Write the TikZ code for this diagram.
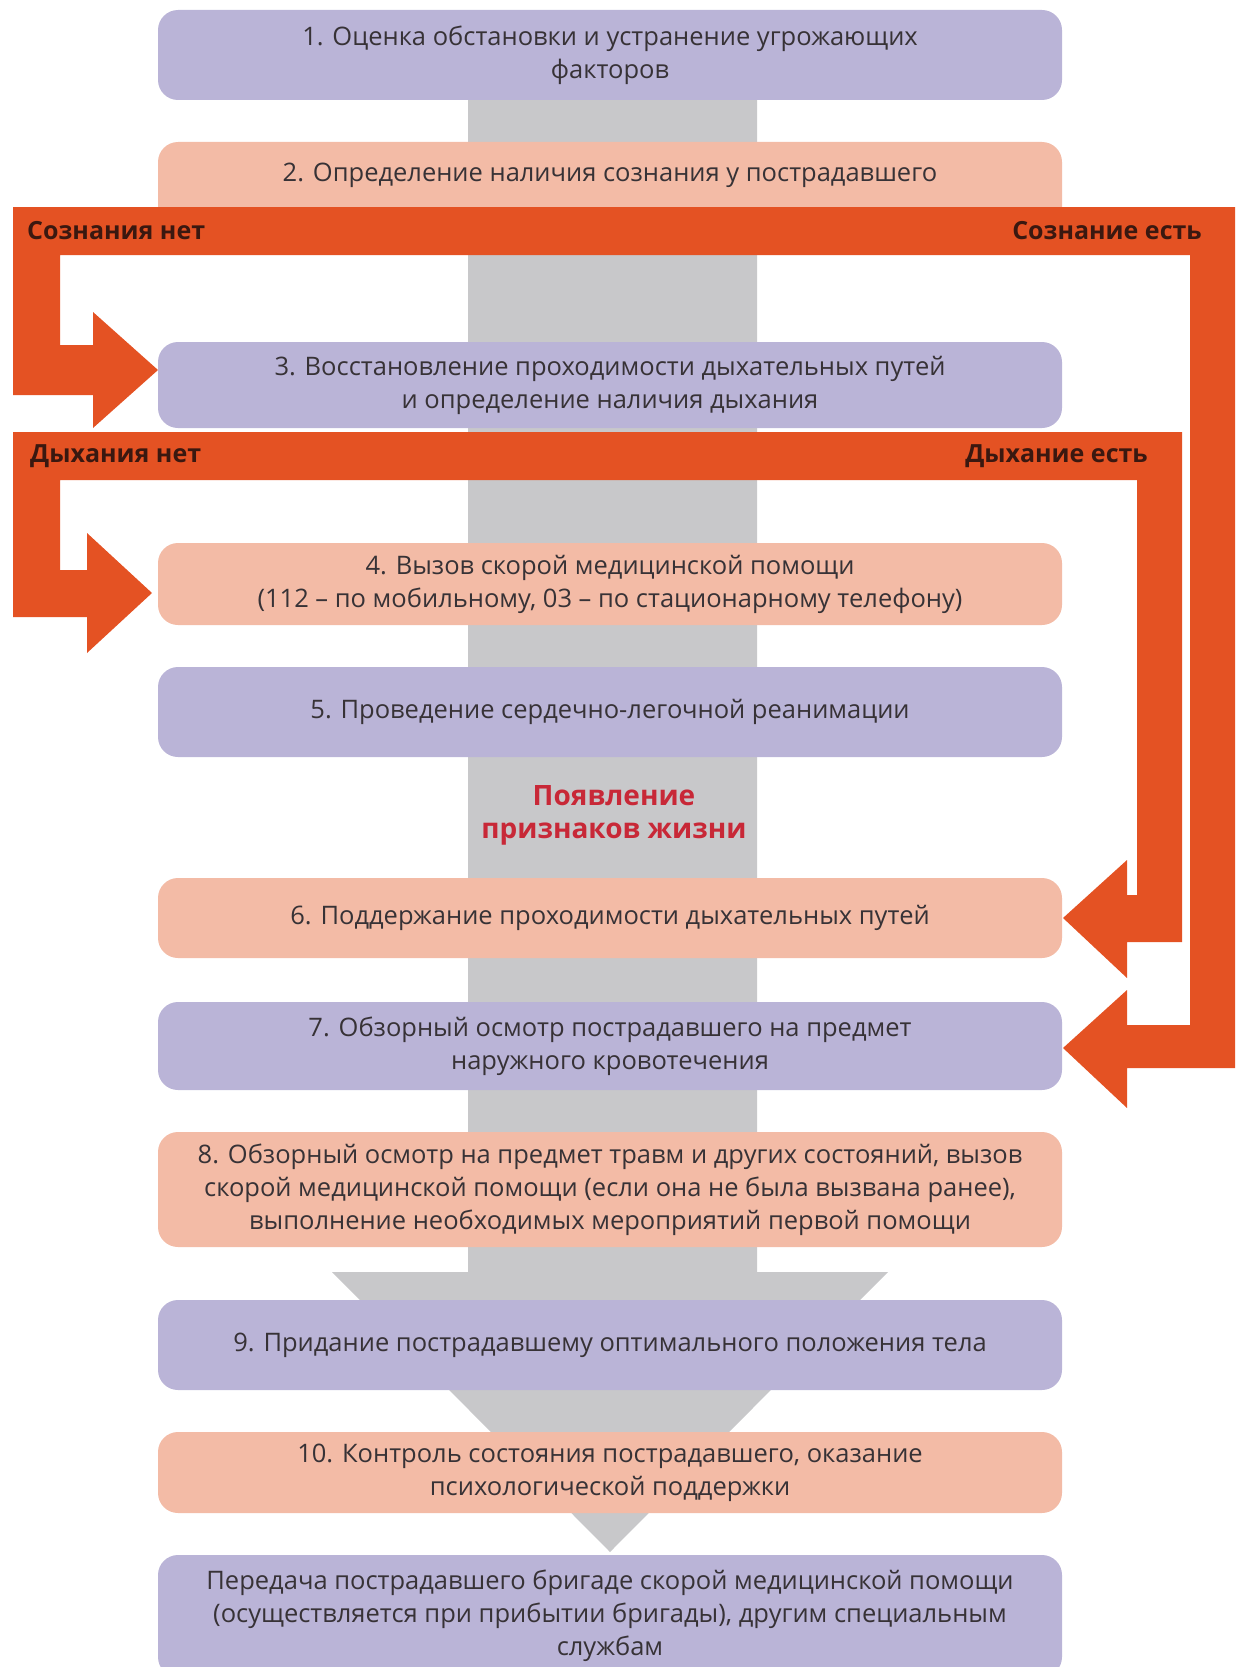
\documentclass[tikz,border=0pt]{standalone}
\usepackage{fontspec}
\setmainfont{Open Sans}
\usetikzlibrary{positioning}
\definecolor{lilac}{RGB}{186,180,215}
\definecolor{peach}{RGB}{243,187,166}
\definecolor{flame}{RGB}{228,82,35}
\definecolor{shaft}{RGB}{200,200,202}
\definecolor{ink}{RGB}{55,50,54}
\definecolor{brownink}{RGB}{58,24,16}
\definecolor{alert}{RGB}{200,40,55}
\begin{document}
\begin{tikzpicture}[x=1pt,y=-1pt,
	stepbox/.style={rounded corners=20pt, inner sep=0pt, minimum width=904pt, align=center,
		text=ink, font=\fontsize{25.5}{33}\selectfont},
	lilacbox/.style={stepbox, fill=lilac},
	peachbox/.style={stepbox, fill=peach},
	branch/.style={inner sep=0pt, text=brownink, font=\fontsize{25}{27}\selectfont\bfseries}]
				\useasboundingbox (0,0) rectangle (1238,1667);
				\clip (0,0) rectangle (1238,1667);
				
				% grey backbone arrow
				\fill[shaft] (468,98) -- (757,98) -- (757,1272) -- (888,1272) -- (610,1552)
					-- (332,1272) -- (468,1272) -- cycle;
				
				\node[lilacbox, minimum height=90pt] (b1) at (610,55) {1. Оценка обстановки и устранение угрожающих\\факторов};
				\node[peachbox, minimum height=100pt] (b2) at (610,192) {};
				\node[stepbox] (t2) at (610,175) {2. Определение наличия сознания у пострадавшего};
				\node[lilacbox, minimum height=86pt] (b3) at (610,385) {3. Восстановление проходимости дыхательных путей\\и определение наличия дыхания};
				\node[peachbox, minimum height=82pt] (b4) at (610,584) {4. Вызов скорой медицинской помощи\\(112 – по мобильному, 03 – по стационарному телефону)};
				\node[lilacbox, minimum height=90pt] (b5) at (610,712) {5. Проведение сердечно-легочной реанимации};
				\node[align=center, text=alert, font=\fontsize{28}{33}\selectfont\bfseries] (life) at (614,815) {Появление\\признаков жизни};
				\node[peachbox, minimum height=80pt] (b6) at (610,918) {6. Поддержание проходимости дыхательных путей};
				\node[lilacbox, minimum height=88pt] (b7) at (610,1046) {7. Обзорный осмотр пострадавшего на предмет\\наружного кровотечения};
				\node[peachbox, minimum height=115pt] (b8) at (610,1189.5) {8. Обзорный осмотр на предмет травм и других состояний, вызов\\скорой медицинской помощи (если она не была вызвана ранее),\\выполнение необходимых мероприятий первой помощи};
				\node[lilacbox, minimum height=90pt] (b9) at (610,1345) {9. Придание пострадавшему оптимального положения тела};
				\node[peachbox, minimum height=81pt] (b10) at (610,1472.5) {10. Контроль состояния пострадавшего, оказание\\психологической поддержки};
				\node[lilacbox, minimum height=122pt] (b11) at (610,1616) {Передача пострадавшего бригаде скорой медицинской помощи\\(осуществляется при прибытии бригады), другим специальным\\службам};
				
				% consciousness branches
				\fill[flame] (13,207) -- (1235,207) -- (1235,1068) -- (1127,1068) -- (1127,1108)
					-- (1063,1048) -- (1127,990) -- (1127,1025) -- (1190,1025) -- (1190,255)
					-- (60,255) -- (60,345) -- (93,345) -- (93,312) -- (158,370) -- (93,428)
					-- (93,395) -- (13,395) -- cycle;
				% breathing branches
				\fill[flame] (13,432) -- (1182,432) -- (1182,942) -- (1127,942) -- (1127,978)
					-- (1063,918) -- (1127,860) -- (1127,895) -- (1137,895) -- (1137,480)
					-- (60,480) -- (60,570) -- (87,570) -- (87,533) -- (152,593) -- (87,653)
					-- (87,617) -- (13,617) -- cycle;
				
				\node[branch, anchor=west] (noc) at (27,231) {Сознания нет};
				\node[branch, anchor=east] (yesc) at (1202,231) {Сознание есть};
				\node[branch, anchor=west] (nob) at (30,456) {Дыхания нет};
				\node[branch, anchor=east] (yesb) at (1148,456) {Дыхание есть};
			\end{tikzpicture}
\end{document}
